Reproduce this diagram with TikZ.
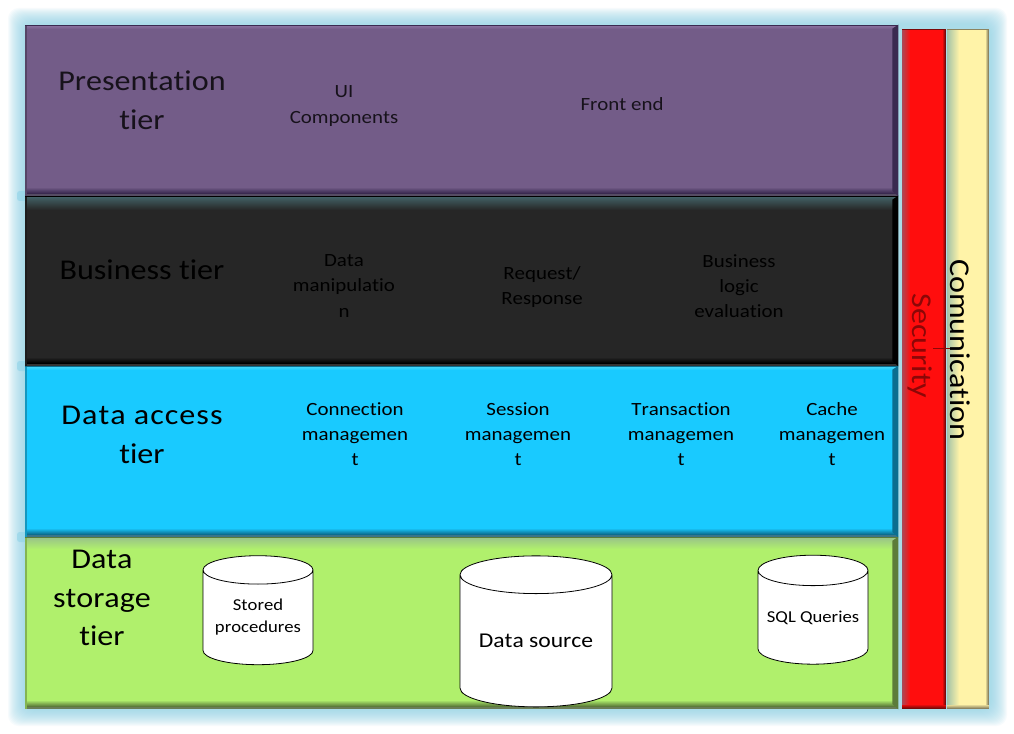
\documentclass[tikz,border=0pt]{standalone}
\usepackage{fontspec}
\setmainfont{Carlito}[FakeStretch=1.12,Ligatures=NoCommon,Kerning=Off]
\usetikzlibrary{shapes.geometric}
\definecolor{tierpurple}{HTML}{735C88}
\definecolor{tierblack}{HTML}{262626}
\definecolor{tiercyan}{HTML}{19CAFF}
\definecolor{tiergreen}{HTML}{B0F06C}
\definecolor{barred}{HTML}{FF0D0D}
\definecolor{baryellow}{HTML}{FFF3A8}
\definecolor{halo}{HTML}{8FD3E8}
\definecolor{purpletop}{HTML}{947AA8}
\definecolor{tealtop}{HTML}{46696E}
\definecolor{cyantop}{HTML}{5ADCF5}
\definecolor{greentop}{HTML}{96BE8C}
\definecolor{purplelow}{HTML}{3A2A50}
\definecolor{blacklow}{HTML}{000000}
\definecolor{cyanlow}{HTML}{0B6E90}
\definecolor{greenlow}{HTML}{5C7C3A}
\definecolor{redleft}{HTML}{A05060}
\definecolor{redlow}{HTML}{7A0808}
\definecolor{yellowleft}{HTML}{9CBFA8}
\definecolor{yellowlow}{HTML}{8C8460}
% 1px bands from one colour to the next, going down or to the right
\newcommand{\hbands}[6]{\foreach \i in {1,...,#6}{
		\pgfmathtruncatemacro\mixp{100*\i/#6}
		\fill[#2!\mixp!#1] ([yshift={-.75pt*(#5+\i-1)}]#3) rectangle ([yshift={-.75pt*(#5+\i)}]#4);
	}}
\newcommand{\vbands}[6]{\foreach \i in {1,...,#6}{
		\pgfmathtruncatemacro\mixp{100*\i/#6}
		\fill[#2!\mixp!#1] ([xshift={.75pt*(#5+\i-1)}]#3) rectangle ([xshift={.75pt*(#5+\i)}]#4);
	}}
\tikzset{
	tier/.style={rectangle,inner sep=0pt,minimum width=654.75pt,fill=#1},
	sidebar/.style={rectangle,inner sep=0pt,minimum height=510pt,fill=#1},
	bigtext/.style={align=center,font=\fontsize{21.5}{29}\selectfont,inner sep=0pt},
	smalltext/.style={align=center,font=\fontsize{14}{19}\selectfont,inner sep=0pt},
	sidetext/.style={font=\fontsize{21.5}{24}\selectfont,inner sep=0pt,rotate=-90},
	store/.style={shape=cylinder,shape border rotate=90,aspect=.33,draw=black,fill=white,line width=.6pt,inner sep=0pt,align=center,font=\fontsize{12.5}{16.5}\selectfont},
}
\begin{document}
\begin{tikzpicture}[x=.75pt,y=-.75pt]
	\useasboundingbox[fill=white] (0,0) rectangle (1014,734);
	% glow behind everything
	\foreach \g in {17,16,...,1}{
		\fill[halo,opacity=.07,rounded corners=8pt] (25-\g,25-\g) rectangle (990+\g,709+\g);
	}
	\foreach \y in {196,366,537}{
		\fill[halo,opacity=.6,rounded corners=2pt] (17,\y-5) rectangle (27,\y+5);
	}
	% tiers
	\node[tier=tierpurple,minimum height=128.25pt] (presentation) at (461.5,110.5) {};
	\node[tier=tierblack,minimum height=127.5pt] (business) at (461.5,281) {};
	\node[tier=tiercyan,minimum height=128.25pt] (access) at (461.5,451.5) {};
	\node[tier=tiergreen,minimum height=129pt] (storage) at (461.5,623) {};
	% bevels: name/fill/top colour/top depth/low colour
	\foreach \n/\c/\t/\d/\l in {presentation/tierpurple/purpletop/5/purplelow,business/tierblack/tealtop/15/blacklow,access/tiercyan/cyantop/5/cyanlow,storage/tiergreen/greentop/13/greenlow}{
		\hbands{\t}{\c}{\n.north west}{\n.north east}{0}{\d}
		\hbands{\c}{\l}{\n.south west}{\n.south east}{-8}{6}
		\fill[\l!60!gray] ([yshift=1.5pt]\n.south west) rectangle (\n.south east);
		\fill[\l] ([xshift=-4.5pt,yshift=-3pt]\n.north east) -- (\n.north east) -- (\n.south east) -- ([xshift=-4.5pt,yshift=4pt]\n.south east) -- cycle;
		\fill[\c!75!black] ([xshift=1.5pt]\n.north west) rectangle (\n.south west);
		\fill[\l] (\n.north west) rectangle ([yshift=-1.2pt]\n.north east);
	}
	% side bars
	\node[sidebar=barred,minimum width=33pt] (security) at (924,369) {};
	\node[sidebar=baryellow,minimum width=31.5pt] (comm) at (968,369) {};
	\foreach \n/\c/\s/\w/\l in {security/barred/redleft/9/redlow,comm/baryellow/yellowleft/13/yellowlow}{
		\vbands{\s}{\c}{\n.north west}{\n.south west}{0}{\w}
		\vbands{\c}{\l}{\n.north east}{\n.south east}{-3}{3}
		\hbands{\c}{\l}{\n.south west}{\n.south east}{-4}{4}
		\fill[\l] (\n.north west) rectangle ([yshift=-.8pt]\n.north east);
	}
	\node[sidetext,text=barred!55!black] (sectext) at (920,346) {Security};
	\node[sidetext] (commtext) at (960,350) {Comunication};
	\coordinate (tickl) at (933,348);
	\coordinate (tickr) at (950,348);
	\draw[barred!55!black,line width=.5pt] (tickl) -- (tickr);
	% tier names
	\node[bigtext,text=black!80!tierpurple] (n1) at (142,100) {Presentation\\tier};
	\node[bigtext] (n2) at (142,270) {Business tier};
	\node[bigtext] (n3) at (142,435) {{\addfontfeature{LetterSpace=3.5}Data access}\\tier};
	\node[bigtext] (n4) at (102,598) {Data\\storage\\tier};
	% parts of each tier
	\node[smalltext,text=black!80!tierpurple] (p1) at (344,106) {UI\\Components};
	\node[smalltext,text=black!80!tierpurple] (p2) at (622,104) {Front end};
	\node[smalltext] (b1) at (344,286) {Data\\manipulatio\\n};
	\node[smalltext] (b2) at (542,287) {Request/\\Response};
	\node[smalltext] (b3) at (739,286) {Business\\logic\\evaluation};
	\foreach \n/\x/\t in {a1/355/Connection,a2/518/Session,a3/681/Transaction,a4/832/Cache}{
		\node[smalltext] (\n) at (\x,434) {\t\\managemen\\t};
	}
	% stores
	\node[store,minimum width=82.5pt,minimum height=81.75pt] (procs) at (258,617.5) {Stored\\procedures};
	\node[store,minimum width=114pt,minimum height=113.25pt,font=\fontsize{15.8}{18}\selectfont] (source) at (536,641) {Data source};
	\node[store,minimum width=82.5pt,minimum height=81.75pt] (queries) at (813,617.5) {SQL Queries};
\end{tikzpicture}
\end{document}
